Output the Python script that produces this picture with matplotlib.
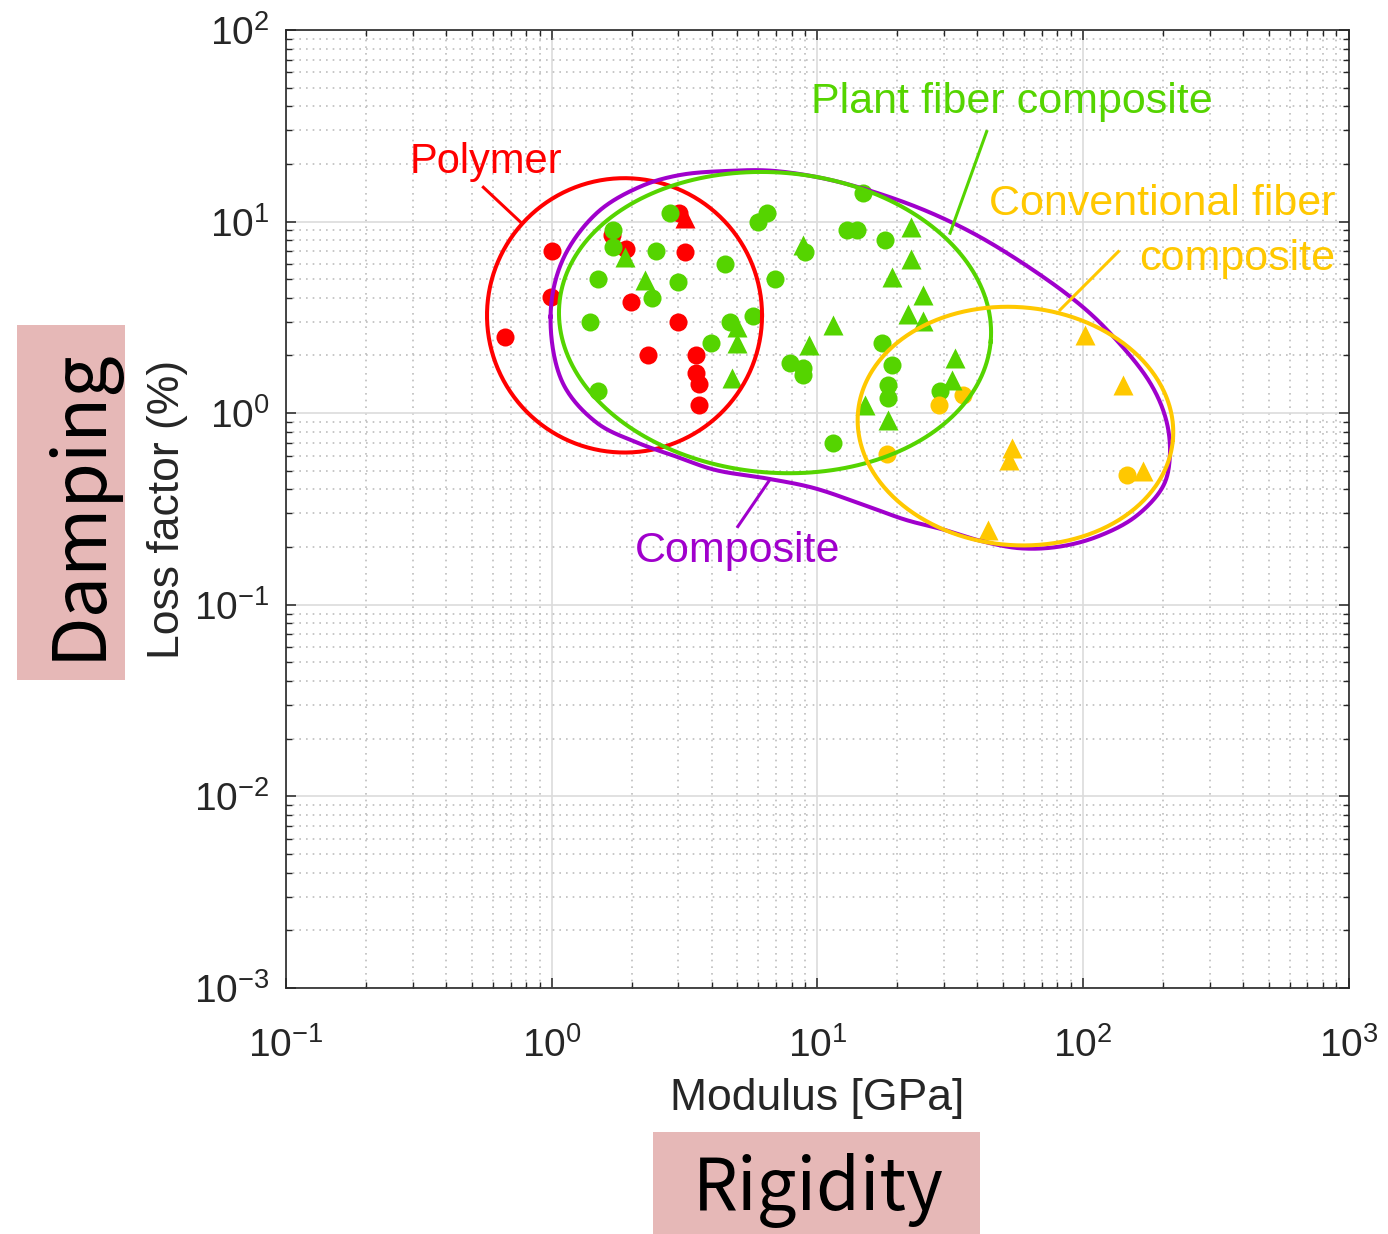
import numpy as np
import matplotlib
matplotlib.use("Agg")
import matplotlib.pyplot as plt
from matplotlib.patches import Rectangle

plt.rcParams['font.family'] = ['Liberation Sans', 'DejaVu Sans']
plt.rcParams['mathtext.fontset'] = 'custom'
plt.rcParams['mathtext.rm'] = 'Liberation Sans'
plt.rcParams['mathtext.default'] = 'regular'

# --- data (modulus GPa, loss factor %) ---
poly_circ_x = [0.667, 1.00, 0.99, 1.68, 1.90, 1.99, 2.30, 3.02, 3.18, 2.98, 3.49, 3.49, 3.59, 3.59]
poly_circ_y = [2.51, 7.06, 4.03, 8.5, 7.2, 3.8, 2.0, 11.1, 6.9, 3.0, 2.0, 1.62, 1.42, 1.10]
poly_tri_x = [3.18]
poly_tri_y = [10.4]

plant_circ_x = [2.79, 1.70, 1.70, 2.48, 1.49, 2.98, 2.39, 1.39, 1.49, 4.49, 4.69, 5.74, 3.98,
                6.0, 6.45, 6.93, 7.9, 14.9, 12.9, 14.1, 18.0, 9.0, 8.8, 8.8, 17.5, 19.1,
                18.4, 18.4, 29.0, 11.5]
plant_circ_y = [11.1, 9.05, 7.4, 7.03, 5.02, 4.83, 4.0, 3.0, 1.30, 6.0, 3.0, 3.22, 2.32,
                10.0, 11.1, 5.02, 1.82, 14.1, 9.05, 9.05, 8.0, 6.97, 1.72, 1.58, 2.32, 1.79,
                1.41, 1.20, 1.30, 0.70]
plant_tri_x = [1.89, 2.24, 4.97, 4.97, 4.76, 8.84, 22.5, 22.5, 19.1, 25.1, 22.0, 24.9, 11.5,
               9.3, 33.0, 32.1, 15.1, 18.5]
plant_tri_y = [6.57, 4.97, 2.83, 2.32, 1.52, 7.56, 9.42, 6.37, 5.16, 4.14, 3.3, 3.04, 2.89,
               2.27, 1.95, 1.49, 1.10, 0.92]

conv_circ_x = [28.6, 35.5, 18.3, 147]
conv_circ_y = [1.10, 1.25, 0.61, 0.477]
conv_tri_x = [102, 142, 54.2, 52.8, 169, 44]
conv_tri_y = [2.56, 1.41, 0.66, 0.57, 0.50, 0.246]

# outline of the "Composite" envelope
comp_x = [0.99, 1.10, 1.48, 2.15, 3.04, 4.69, 6.81, 11.2, 20.0, 31.6, 48.7, 89.4, 123.2, 179,
          207, 212, 200, 158, 113.5, 81.3, 58.5, 42.0, 30.1, 21.6, 15.5, 9.75, 6.65, 4.11,
          2.95, 2.11, 1.48, 1.10]
comp_y = [3.19, 6.31, 11.1, 15.2, 17.5, 18.4, 18.4, 16.5, 13.0, 10.0, 7.22, 4.06, 2.72, 1.44,
          0.89, 0.57, 0.414, 0.289, 0.227, 0.201, 0.197, 0.214, 0.246, 0.277, 0.326, 0.406,
          0.453, 0.506, 0.593, 0.700, 0.89, 1.44]

RED = '#FF0000'
GREEN = '#55D400'
YELLOW = '#FFC800'
PURPLE = '#A000CC'
INK = '#262626'

fig = plt.figure(figsize=(13.88, 12.34), dpi=100)
ax = fig.add_axes([0.2061, 0.1994, 0.7655, 0.7763])
ax.set_xscale('log')
ax.set_yscale('log')
ax.set_xlim(1e-1, 1e3)
ax.set_ylim(1e-3, 1e2)

# pixels per decade, used to keep shapes in screen proportions
sx = 13.88 * 0.7655 * 100 / 4
sy = 12.34 * 0.7763 * 100 / 5
k = sy / sx


def ellipse(cx, cy, rx, ry, tilt=0.0, n=400):
    t = np.linspace(0, 2 * np.pi, n)
    u = rx * np.cos(t)
    v = ry * k * np.sin(t)
    a = np.deg2rad(-tilt)
    uu = u * np.cos(a) - v * np.sin(a)
    vv = u * np.sin(a) + v * np.cos(a)
    return 10 ** (np.log10(cx) + uu), 10 ** (np.log10(cy) + vv / k)


def closed_spline(xs, ys, n=30, alpha=0.5):
    # centripetal Catmull-Rom through the points, in screen-like log space
    P = np.column_stack([np.log10(xs), np.log10(ys) * k])
    m = len(P)
    segs = []
    for i in range(m):
        p0, p1, p2, p3 = P[i - 1], P[i], P[(i + 1) % m], P[(i + 2) % m]
        t0 = 0.0
        t1 = t0 + np.linalg.norm(p1 - p0) ** alpha
        t2 = t1 + np.linalg.norm(p2 - p1) ** alpha
        t3 = t2 + np.linalg.norm(p3 - p2) ** alpha
        t = np.linspace(t1, t2, n, endpoint=False)[:, None]
        a1 = (t1 - t) / (t1 - t0) * p0 + (t - t0) / (t1 - t0) * p1
        a2 = (t2 - t) / (t2 - t1) * p1 + (t - t1) / (t2 - t1) * p2
        a3 = (t3 - t) / (t3 - t2) * p2 + (t - t2) / (t3 - t2) * p3
        b1 = (t2 - t) / (t2 - t0) * a1 + (t - t0) / (t2 - t0) * a2
        b2 = (t3 - t) / (t3 - t1) * a2 + (t - t1) / (t3 - t1) * a3
        segs.append((t2 - t) / (t2 - t1) * b1 + (t - t1) / (t2 - t1) * b2)
    out = np.vstack(segs + [segs[0][:1]])
    return 10 ** out[:, 0], 10 ** (out[:, 1] / k)


ms_c, ms_t = 13, 14
ax.plot(poly_circ_x, poly_circ_y, 'o', color=RED, ms=ms_c, mec='none', zorder=3)
ax.plot(plant_circ_x, plant_circ_y, 'o', color=GREEN, ms=ms_c, mec='none', zorder=3)
ax.plot(conv_circ_x, conv_circ_y, 'o', color=YELLOW, ms=ms_c, mec='none', zorder=3)
ax.plot(poly_tri_x, poly_tri_y, '^', color=RED, ms=ms_t, mec='none', zorder=3)
ax.plot(plant_tri_x, plant_tri_y, '^', color=GREEN, ms=ms_t, mec='none', zorder=3)
ax.plot(conv_tri_x, conv_tri_y, '^', color=YELLOW, ms=ms_t, mec='none', zorder=3)

lw = 2.9
ex, ey = ellipse(1.88, 3.24, 0.5177, 0.716)
ax.plot(ex, ey, color=RED, lw=lw, zorder=4)
ex, ey = closed_spline(comp_x, comp_y)
ax.plot(ex, ey, color=PURPLE, lw=lw, zorder=4)
ex, ey = ellipse(6.93, 2.97, 0.815, 0.783, tilt=5)
ax.plot(ex, ey, color=GREEN, lw=lw, zorder=4)
ex, ey = ellipse(55.7, 0.856, 0.595, 0.621, tilt=5)
ax.plot(ex, ey, color=YELLOW, lw=lw, zorder=4)

# labels with leader lines
fs = 31
ax.text(0.565, 17.9, 'Polymer', color=RED, fontsize=30, ha='center', va='baseline')
ax.plot([0.553, 0.771], [15.1, 9.81], color=RED, lw=2.2, zorder=4)
ax.text(53.9, 36.8, 'Plant fiber composite', color=GREEN, fontsize=fs, ha='center', va='baseline')
ax.plot([43.4, 31.6], [29.5, 8.7], color=GREEN, lw=2.2, zorder=4)
ax.text(891, 10.8, 'Conventional fiber', color=YELLOW, fontsize=fs, ha='right', va='baseline')
ax.text(891, 5.60, 'composite', color=YELLOW, fontsize=fs, ha='right', va='baseline')
ax.plot([135.9, 82.0], [6.97, 3.46], color=YELLOW, lw=2.2, zorder=4)
ax.text(5.02, 0.168, 'Composite', color=PURPLE, fontsize=fs, ha='center', va='baseline')
ax.plot([6.65, 5.02], [0.453, 0.256], color=PURPLE, lw=2.2, zorder=4)

# axes styling (MATLAB look)
ax.grid(which='major', color='#dcdcdc', lw=1.2, zorder=0)
ax.grid(which='minor', color='#bdbdbd', lw=1.2, ls=(0, (1, 3)), zorder=0)
ax.set_axisbelow(True)
for s in ax.spines.values():
    s.set_color(INK)
    s.set_linewidth(1.2)
ax.tick_params(which='both', direction='in', top=True, right=True, colors=INK)
ax.tick_params(which='major', length=7, width=1.1, labelsize=28)
ax.tick_params(which='minor', length=4, width=1.0)
ax.tick_params(axis='x', which='major', pad=28)
ax.tick_params(axis='y', which='major', pad=12)
ax.set_xlabel('Modulus [GPa]', fontsize=32, color=INK)
ax.set_ylabel('Loss factor (%)', fontsize=32, color=INK)
ax.xaxis.set_label_coords(0.5, -0.094)
ax.yaxis.set_label_coords(-0.092, 0.5)

# highlighted captions
PINK = '#E6B8B7'
fig.patches.append(Rectangle((0.012, 0.449), 0.078, 0.2877, transform=fig.transFigure,
                             facecolor=PINK, edgecolor='none'))
fig.patches.append(Rectangle((0.4705, 0.0), 0.2356, 0.0829, transform=fig.transFigure,
                             facecolor=PINK, edgecolor='none'))
fig.text(0.0575, 0.5916, 'Damping', rotation=90, fontsize=53, color='black',
         family=['Noto Sans CJK JP', 'DejaVu Sans'], ha='center', va='center')
fig.text(0.5895, 0.0195, 'Rigidity', fontsize=51, color='black',
         family=['Noto Sans CJK JP', 'DejaVu Sans'], ha='center', va='baseline')

fig.savefig('out.png', dpi=100)
